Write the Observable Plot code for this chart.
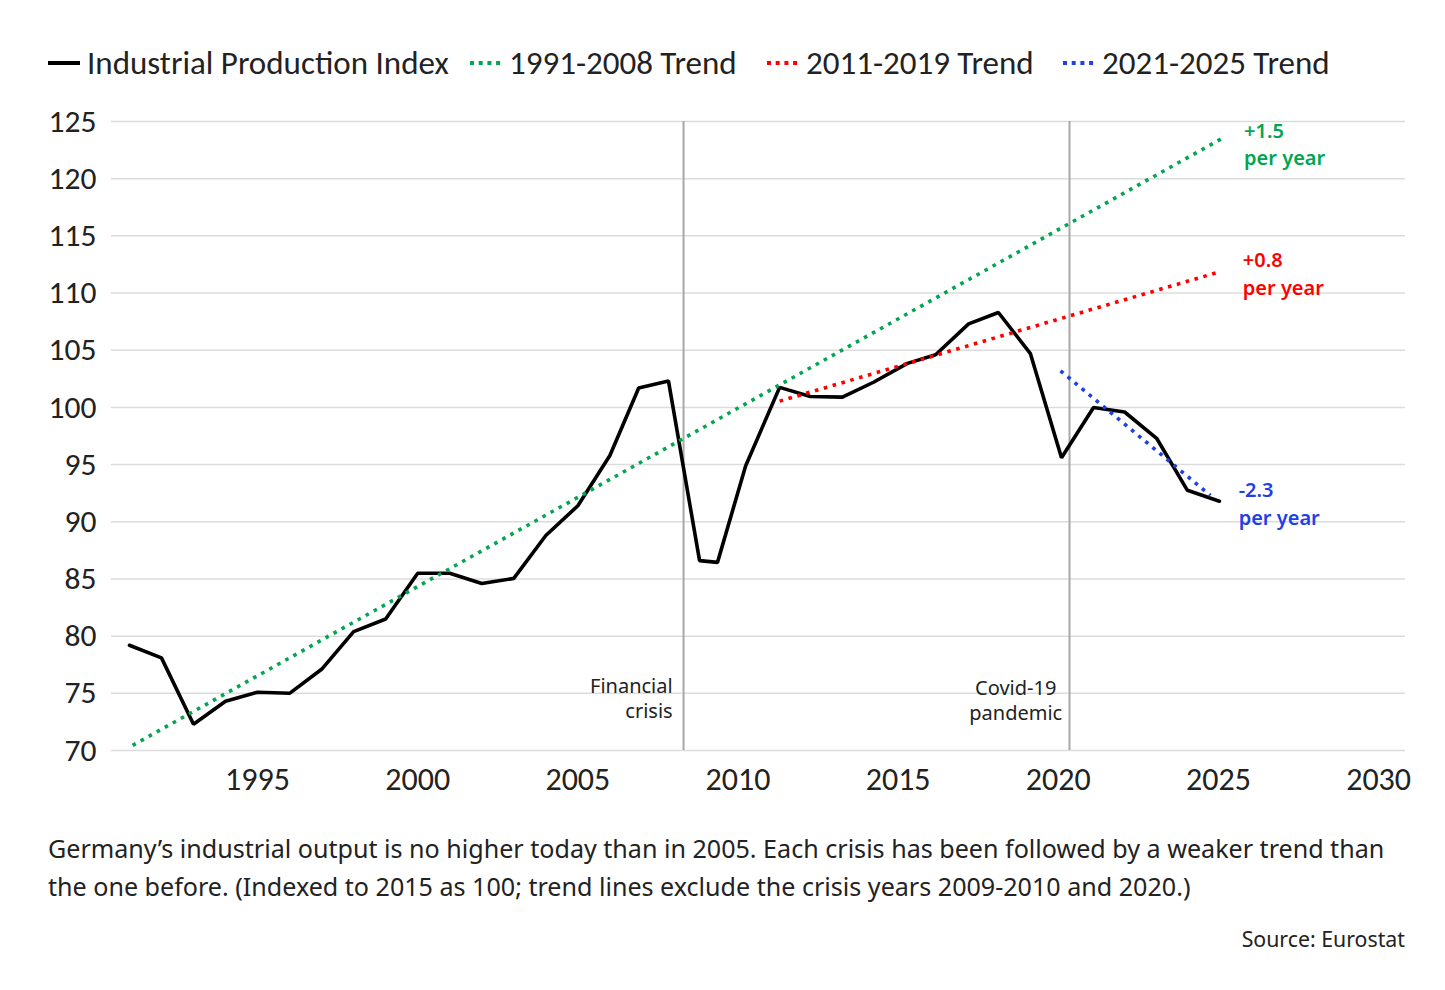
<!DOCTYPE html>
<html><head><meta charset="utf-8">
<script src="https://cdn.jsdelivr.net/npm/d3@7"></script>
<script src="https://cdn.jsdelivr.net/npm/@observablehq/plot@0.6"></script>
<style>
body{margin:0;background:#fff;width:1445px;height:990px;overflow:hidden;position:relative;font-family:"Noto Sans",sans-serif;}
#legend{position:absolute;left:0;top:0;width:1445px;height:100px;}
.item{position:absolute;top:41px;height:44px;display:flex;align-items:center;font-family:Carlito,Lato,sans-serif;font-size:33px;color:#222;white-space:nowrap;}
.item svg{margin-right:7px;}
#chart{position:absolute;left:0;top:100px;}
#caption{position:absolute;left:48px;top:829px;font-size:25.1px;line-height:38px;color:#222;width:1390px;white-space:nowrap;}
#source{position:absolute;right:40px;top:924px;font-size:21.3px;color:#222;}
</style></head>
<body>
<div id="legend"></div>
<div id="chart"></div>
<div id="caption">Germany’s industrial output is no higher today than in 2005. Each crisis has been followed by a weaker trend than<br>the one before. (Indexed to 2015 as 100; trend lines exclude the crisis years 2009-2010 and 2020.)</div>
<div id="source">Source: Eurostat</div>
<script>
// ---- data ----
const years = [1991,1992,1993,1994,1995,1996,1997,1998,1999,2000,2001,2002,2003,2004,2005,2006,2006.9,2007.83,2008.8,2009.36,2010.24,2011.3,2012.26,2013.26,2014.23,2015.29,2016.17,2017.2,2018.13,2019.13,2020.1,2021.1,2022.07,2023.07,2024.03,2025.03];
const index = [79.2,78.1,72.3,74.3,75.1,75.0,77.1,80.4,81.5,85.5,85.5,84.6,85.05,88.8,91.4,95.8,101.7,102.3,86.6,86.45,94.9,101.75,100.95,100.9,102.2,103.85,104.6,107.3,108.3,104.7,95.6,100.0,99.6,97.3,92.75,91.8];
const seriesName = "Industrial Production Index";
const trendNames = ["1991-2008 Trend","2011-2019 Trend","2021-2025 Trend"];
const trendColors = ["#00a651","#ff0000","#1e40e6"];
const trendStartYear = [1991.1, 2011.3, 2020.07];
const trendStartValue = [70.45, 100.55, 103.2];
const trendEndYear = [2025.1, 2024.97, 2024.75];
const trendEndValue = [123.5, 111.8, 92.3];
const trendLabels = ["+1.5\nper year","+0.8\nper year","-2.3\nper year"];
const crisisYears = [2008.3, 2020.35];
const crisisLabels = ["Financial\ncrisis","Covid-19\npandemic"];
const yTicks = [70,75,80,85,90,95,100,105,110,115,120,125];
const xTicks = [1995,2000,2005,2010,2015,2020,2025,2030];

// ---- legend ----
const legend = document.getElementById("legend");
const legendLeft = [48, 470, 767, 1063];
function addItem(left, name, color, dotted){
  const d = document.createElement("div");
  d.className = "item"; d.style.left = left + "px";
  d.innerHTML = `<svg width="32" height="10"><line x1="0" x2="32" y1="5" y2="5" stroke="${color}" stroke-width="4" ${dotted ? 'stroke-dasharray="4,4.7"' : ''}/></svg><span>${name}</span>`;
  legend.appendChild(d);
}
addItem(legendLeft[0], seriesName, "#000", false);
trendNames.forEach((n,i)=>addItem(legendLeft[i+1], n, trendColors[i], true));

// ---- chart ----
const data = years.map((y,i)=>({year:y, value:index[i]}));
const axisFont = "Carlito, Lato, sans-serif";
const trendMarks = trendNames.map((n,i)=>Plot.line(
  [{year:trendStartYear[i], value:trendStartValue[i]},{year:trendEndYear[i], value:trendEndValue[i]}],
  {x:"year", y:"value", stroke:trendColors[i], strokeWidth:3.6, strokeDasharray:"3.6,5.6", strokeLinecap:"butt"}));
const labelYear = [2025.8, 2025.76, 2025.63];
const labelValue = [123.16, 111.8, 91.7];
const trendLabelData = trendLabels.map((t,i)=>({text:t, year:labelYear[i], value:labelValue[i], color:trendColors[i]}));

const chart = Plot.plot({
  width:1445, height:720,
  marginTop:21, marginBottom:70, marginLeft:111, marginRight:40,
  style:{background:"transparent", overflow:"visible"},
  x:{domain:[1990.44,2030.84]},
  y:{domain:[70,125]},
  marks:[
    Plot.gridY(yTicks,{stroke:"#dcdcdc", strokeOpacity:1, strokeWidth:1.5}),
    Plot.ruleX(crisisYears,{stroke:"#a8a8a8", strokeWidth:2}),
    Plot.axisY(yTicks,{tickSize:0, tickPadding:15, fontSize:31.5, fontFamily:axisFont, fill:"#222", label:null}),
    Plot.axisX(xTicks,{tickSize:0, tickPadding:17, fontSize:32, fontFamily:axisFont, fill:"#222", label:null, tickFormat:d=>String(d)}),
    Plot.line(data,{x:"year", y:"value", stroke:"#000", strokeWidth:3.6, strokeLinejoin:"miter"}),
    ...trendMarks,
    Plot.text(trendLabelData,{x:"year", y:"value", text:"text", fill:d=>d.color, textAnchor:"start", lineAnchor:"middle", lineHeight:1.4, fontSize:20, fontWeight:600, fontFamily:"Noto Sans, sans-serif"}),
    Plot.text([crisisLabels[0]],{x:()=>2007.96, y:()=>74.6, text:d=>d, textAnchor:"end", lineAnchor:"middle", lineHeight:1.25, fontSize:20, fill:"#222", fontFamily:"Noto Sans, sans-serif"}),
    Plot.text([crisisLabels[1]],{x:()=>2018.67, y:()=>74.5, text:d=>d, textAnchor:"middle", lineAnchor:"middle", lineHeight:1.25, fontSize:20, fill:"#222", fontFamily:"Noto Sans, sans-serif"})
  ]
});
document.getElementById("chart").appendChild(chart);
</script>
</body></html>
